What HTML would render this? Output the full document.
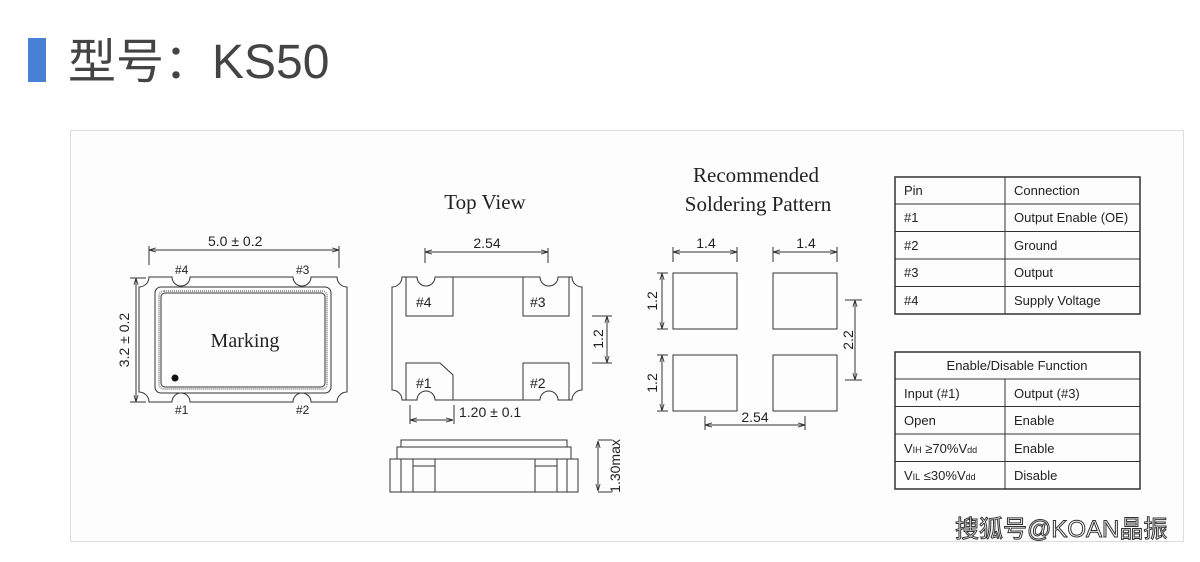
<!DOCTYPE html>
<html><head><meta charset="utf-8"><style>
body{margin:0;width:1200px;height:557px;background:#fff;overflow:hidden;font-family:"Liberation Sans","Noto Sans CJK SC",sans-serif}
</style></head><body>
<svg width="1200" height="557" xmlns="http://www.w3.org/2000/svg" font-family="Liberation Sans, Noto Sans CJK SC, sans-serif">
<rect x="28" y="38" width="18" height="44" fill="#4a7fd6"/>
<text x="68" y="78" font-size="48" fill="#444">型号：KS50</text>
<rect x="70.5" y="130.5" width="1113" height="411" fill="#fdfdfd" stroke="#ddd"/>
<defs><marker id="a" viewBox="0 0 10 10" refX="10" refY="5" markerWidth="7" markerHeight="7" orient="auto-start-reverse"><path d="M0,2 L10,5 L0,8" fill="none" stroke="#333" stroke-width="1.2"/></marker></defs>
<g stroke="#333" fill="none" stroke-width="1">
<path d="M149,277 H172 A9,9 0 0 0 190,277 H293 A9,9 0 0 0 311,277 H337 A10,10 0 0 0 347,287 V392 A10,10 0 0 0 337,402 H311 A9,9 0 0 0 293,402 H190 A9,9 0 0 0 172,402 H149 A10,10 0 0 0 139,392 V287 A10,10 0 0 0 149,277 Z"/>
<rect x="155" y="287" width="176" height="106" rx="6"/>
<rect x="159" y="291" width="168" height="98" rx="5" stroke="#999" stroke-width="2" stroke-dasharray="1 1"/>
<rect x="161" y="293" width="164" height="94" rx="4"/>
<line x1="149" y1="250" x2="339" y2="250" marker-start="url(#a)" marker-end="url(#a)"/>
<line x1="149" y1="246" x2="149" y2="265"/><line x1="339" y1="246" x2="339" y2="268"/>
<line x1="136" y1="278" x2="136" y2="402" marker-start="url(#a)" marker-end="url(#a)"/>
<line x1="130" y1="278" x2="146" y2="278"/><line x1="130" y1="402" x2="146" y2="402"/>
<path d="M402,277 H417 A9,9 0 0 0 435,277 H540 A9,9 0 0 0 558,277 H572 A10,10 0 0 0 582,287 V390 A10,10 0 0 0 572,400 H558 A9,9 0 0 0 540,400 H435 A9,9 0 0 0 417,400 H402 A10,10 0 0 0 392,390 V287 A10,10 0 0 0 402,277 Z"/>
<path d="M406,277 V316 H453 V277"/><path d="M523,277 V316 H569 V277"/>
<path d="M406,400 V363 H440 L453,375 V400"/><path d="M523,400 V363 H569 V400"/>
<line x1="425" y1="252" x2="548" y2="252" marker-start="url(#a)" marker-end="url(#a)"/>
<line x1="425" y1="248" x2="425" y2="263"/><line x1="548" y1="248" x2="548" y2="263"/>
<line x1="607" y1="316" x2="607" y2="363" marker-start="url(#a)" marker-end="url(#a)"/>
<line x1="592" y1="316" x2="612" y2="316"/><line x1="592" y1="363" x2="612" y2="363"/>
<line x1="410" y1="420" x2="453" y2="420" marker-start="url(#a)" marker-end="url(#a)"/>
<line x1="410" y1="405" x2="410" y2="424"/><line x1="454" y1="405" x2="454" y2="424"/>
<rect x="401" y="440" width="166" height="7"/>
<rect x="397" y="447" width="174" height="12"/>
<rect x="390" y="459" width="188" height="33"/>
<line x1="401" y1="459" x2="401" y2="492"/><line x1="567" y1="459" x2="567" y2="492"/>
<rect x="413" y="459" width="22" height="33"/><line x1="413" y1="466" x2="435" y2="466"/>
<rect x="535" y="459" width="22" height="33"/><line x1="535" y1="466" x2="557" y2="466"/>
<line x1="598" y1="440" x2="612" y2="440"/><line x1="598" y1="492" x2="612" y2="492"/>
<line x1="598" y1="441" x2="598" y2="491" marker-start="url(#a)" marker-end="url(#a)"/>
<rect x="673" y="273" width="64" height="56"/><rect x="773" y="273" width="64" height="56"/>
<rect x="673" y="355" width="64" height="56"/><rect x="773" y="355" width="64" height="56"/>
<line x1="673" y1="252" x2="737" y2="252" marker-start="url(#a)" marker-end="url(#a)"/>
<line x1="673" y1="247" x2="673" y2="262"/><line x1="737" y1="247" x2="737" y2="262"/>
<line x1="773" y1="252" x2="837" y2="252" marker-start="url(#a)" marker-end="url(#a)"/>
<line x1="773" y1="247" x2="773" y2="262"/><line x1="837" y1="247" x2="837" y2="262"/>
<line x1="662" y1="273" x2="662" y2="329" marker-start="url(#a)" marker-end="url(#a)"/>
<line x1="657" y1="273" x2="668" y2="273"/><line x1="657" y1="329" x2="668" y2="329"/>
<line x1="662" y1="355" x2="662" y2="411" marker-start="url(#a)" marker-end="url(#a)"/>
<line x1="657" y1="355" x2="668" y2="355"/><line x1="657" y1="411" x2="668" y2="411"/>
<line x1="855" y1="300" x2="855" y2="380" marker-start="url(#a)" marker-end="url(#a)"/>
<line x1="845" y1="300" x2="862" y2="300"/><line x1="845" y1="380" x2="862" y2="380"/>
<line x1="705" y1="425" x2="805" y2="425" marker-start="url(#a)" marker-end="url(#a)"/>
<line x1="705" y1="416" x2="705" y2="430"/><line x1="805" y1="416" x2="805" y2="430"/>
<rect x="895" y="177" width="245" height="137" stroke-width="1.5"/>
<line x1="1005" y1="177" x2="1005" y2="314"/>
<line x1="895" y1="204" x2="1140" y2="204"/><line x1="895" y1="231.5" x2="1140" y2="231.5"/>
<line x1="895" y1="259" x2="1140" y2="259"/><line x1="895" y1="286.5" x2="1140" y2="286.5"/>
<rect x="895" y="352" width="245" height="137" stroke-width="1.5"/>
<line x1="1005" y1="379" x2="1005" y2="489"/>
<line x1="895" y1="379" x2="1140" y2="379"/><line x1="895" y1="406.5" x2="1140" y2="406.5"/>
<line x1="895" y1="434" x2="1140" y2="434"/><line x1="895" y1="461.5" x2="1140" y2="461.5"/>
</g>
<circle cx="175" cy="378" r="3.5" fill="#111"/>
<g fill="#222" font-size="14">
<text x="208" y="246">5.0 ± 0.2</text>
<text x="175" y="274" font-size="12">#4</text><text x="296" y="274" font-size="12">#3</text>
<text x="175" y="414" font-size="12">#1</text><text x="296" y="414" font-size="12">#2</text>
<text transform="translate(129,340) rotate(-90)" text-anchor="middle">3.2 ± 0.2</text>
<text x="245" y="347" font-family="Liberation Serif, serif" font-size="20" text-anchor="middle">Marking</text>
<text x="485" y="209" font-family="Liberation Serif, serif" font-size="21" text-anchor="middle">Top View</text>
<text x="487" y="248" text-anchor="middle">2.54</text>
<text x="416" y="307">#4</text><text x="530" y="307">#3</text>
<text x="416" y="388">#1</text><text x="530" y="388">#2</text>
<text transform="translate(603,339) rotate(-90)" text-anchor="middle">1.2</text>
<text x="459" y="417">1.20 ± 0.1</text>
<text transform="translate(620,466) rotate(-90)" text-anchor="middle">1.30max</text>
<text x="756" y="182" font-family="Liberation Serif, serif" font-size="21" text-anchor="middle">Recommended</text>
<text x="758" y="211" font-family="Liberation Serif, serif" font-size="21" text-anchor="middle">Soldering Pattern</text>
<text x="706" y="248" text-anchor="middle">1.4</text><text x="806" y="248" text-anchor="middle">1.4</text>
<text transform="translate(657,301) rotate(-90)" text-anchor="middle">1.2</text>
<text transform="translate(657,383) rotate(-90)" text-anchor="middle">1.2</text>
<text transform="translate(853,340) rotate(-90)" text-anchor="middle">2.2</text>
<text x="755" y="422" text-anchor="middle">2.54</text>
</g>
<g fill="#222" font-size="13">
<text x="904" y="195">Pin</text><text x="1014" y="195">Connection</text>
<text x="904" y="222">#1</text><text x="1014" y="222">Output Enable (OE)</text>
<text x="904" y="250">#2</text><text x="1014" y="250">Ground</text>
<text x="904" y="277">#3</text><text x="1014" y="277">Output</text>
<text x="904" y="305">#4</text><text x="1014" y="305">Supply Voltage</text>
<text x="1017" y="370" text-anchor="middle">Enable/Disable Function</text>
<text x="904" y="398">Input (#1)</text><text x="1014" y="398">Output (#3)</text>
<text x="904" y="425">Open</text><text x="1014" y="425">Enable</text>
<text x="904" y="453">V<tspan font-size="9">IH</tspan> ≥70%V<tspan font-size="9">dd</tspan></text><text x="1014" y="453">Enable</text>
<text x="904" y="480">V<tspan font-size="9">IL</tspan> ≤30%V<tspan font-size="9">dd</tspan></text><text x="1014" y="480">Disable</text>
</g>
<text x="955" y="537" font-size="24" fill="#fff" stroke="#333" stroke-width="1">搜狐号@KOAN晶振</text>
</svg>
</body></html>
